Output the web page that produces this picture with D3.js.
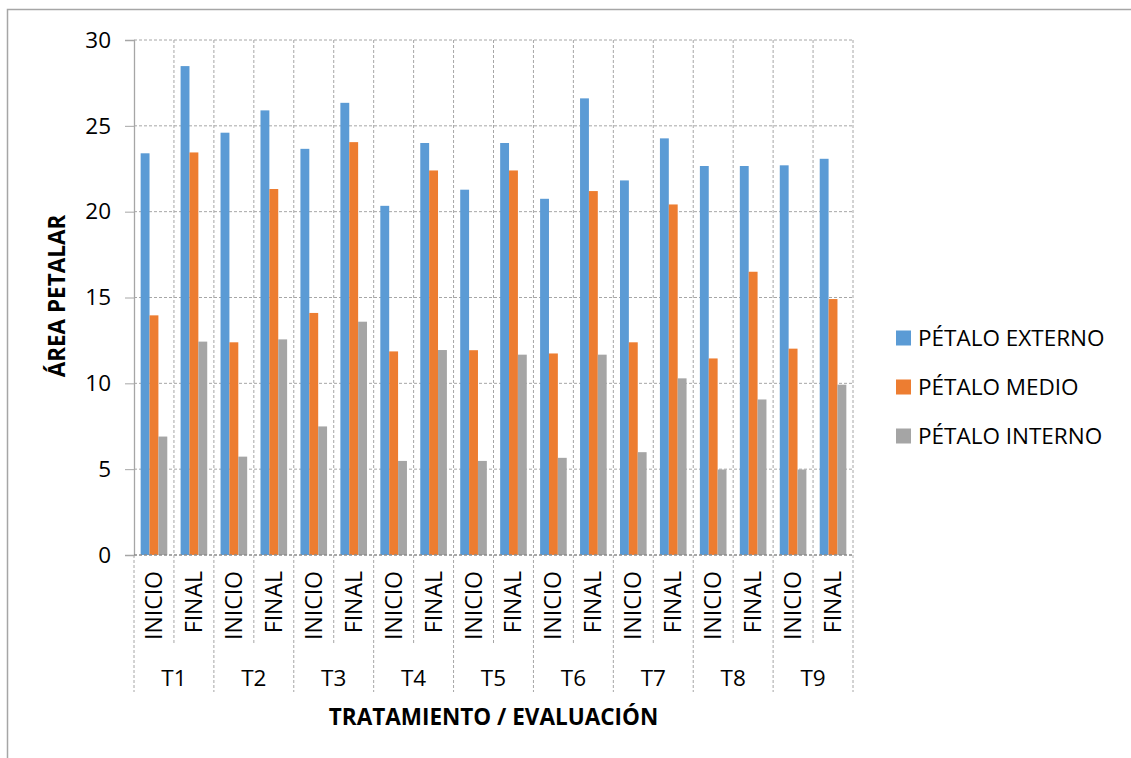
<!DOCTYPE html>
<html><head><meta charset="utf-8">
<script src="https://cdn.jsdelivr.net/npm/d3@7"></script>
<style>
body{margin:0;background:#fff;}
svg{display:block;font-family:"Open Sans",sans-serif;}
</style></head>
<body>
<svg id="chart" width="1131" height="758"></svg>
<script>
const treatments = ["T1","T2","T3","T4","T5","T6","T7","T8","T9"];
const evaluations = ["INICIO","FINAL"];
const seriesNames = ["PÉTALO EXTERNO","PÉTALO MEDIO","PÉTALO INTERNO"];
const seriesColors = ["#5B9BD5","#ED7D31","#A5A5A5"];
// values in order T1 INICIO, T1 FINAL, T2 INICIO, ...
const externo = [23.4,28.48,24.6,25.9,23.66,26.34,20.34,24.0,21.28,24.0,20.75,26.6,21.82,24.27,22.66,22.66,22.7,23.08];
const medio   = [13.96,23.45,12.39,21.32,14.1,24.05,11.86,22.4,11.93,22.4,11.74,21.2,12.39,20.42,11.45,16.5,12.02,14.91];
const interno = [6.9,12.43,5.73,12.56,7.49,13.59,5.48,11.94,5.48,11.67,5.66,11.67,5.99,10.29,4.98,9.06,4.98,9.92];
const yTicks = [0,5,10,15,20,25,30];
const yTitle = "ÁREA PETALAR";
const xTitle = "TRATAMIENTO / EVALUACIÓN";

const seriesValues = [externo, medio, interno];
const cats = [];
treatments.forEach(t => evaluations.forEach(e => cats.push({t, e, key: t + "|" + e})));
const rows = cats.map((c, i) => ({...c, vals: seriesValues.map(s => s[i])}));

const svg = d3.select("#chart");
const L = 134, R = 853, T = 40, B = 555;
const grid = "#A6A6A6";

// outer border
svg.append("rect").attr("x", 7.5).attr("y", 9.5).attr("width", 1140).attr("height", 800)
  .attr("fill", "none").attr("stroke", "#A6A6A6").attr("stroke-width", 1.5);

const x = d3.scaleBand().domain(cats.map(c => c.key)).range([L, R]).paddingInner(0).paddingOuter(0);
const x1 = d3.scaleBand().domain(d3.range(3)).range([0, x.bandwidth()]).paddingInner(0).paddingOuter(0.75);
const y = d3.scaleLinear().domain([0, 30]).range([B, T]);
const gx = d3.scaleBand().domain(treatments).range([L, R]);

// horizontal gridlines
svg.append("g").selectAll("line").data(yTicks.filter(v => v > 0)).join("line")
  .attr("x1", L).attr("x2", R).attr("y1", d => y(d)).attr("y2", d => y(d))
  .attr("stroke", grid).attr("stroke-width", 1).attr("stroke-dasharray", "3,2");
// vertical gridlines at category boundaries
const bounds = cats.map(c => x(c.key)).concat([R]);
svg.append("g").selectAll("line").data(bounds.slice(1)).join("line")
  .attr("x1", d => d).attr("x2", d => d).attr("y1", T).attr("y2", B)
  .attr("stroke", grid).attr("stroke-width", 1).attr("stroke-dasharray", "3,2");

// bars
const cg = svg.append("g").selectAll("g").data(rows).join("g")
  .attr("transform", d => `translate(${x(d.key)},0)`);
cg.selectAll("rect").data(d => d.vals.map((v, i) => ({v, i}))).join("rect")
  .attr("x", d => x1(d.i)).attr("width", x1.bandwidth())
  .attr("y", d => y(d.v)).attr("height", d => y(0) - y(d.v))
  .attr("fill", d => seriesColors[d.i]);

// y axis
const yAxis = d3.axisLeft(y).tickValues(yTicks).tickSize(9).tickPadding(14);
const ya = svg.append("g").attr("transform", `translate(${L},0)`).call(yAxis);
ya.select(".domain").attr("stroke", "#A6A6A6").attr("stroke-width", 1.3);
ya.selectAll(".tick line").attr("stroke", "#A6A6A6");
ya.selectAll("text").attr("font-size", 22.5).attr("fill", "#000").attr("font-family", "Open Sans");

// x axis baseline
svg.append("line").attr("x1", L).attr("x2", R).attr("y1", B).attr("y2", B)
  .attr("stroke", "#8C8C8C").attr("stroke-width", 1.3).attr("stroke-dasharray", "3,2");

// x separators: inner (between INICIO/FINAL) and group boundaries
const sep = svg.append("g");
cats.forEach((c, i) => {
  const xx = x(c.key);
  const isGroup = c.e === "INICIO";
  sep.append("line").attr("x1", xx).attr("x2", xx).attr("y1", B).attr("y2", isGroup ? 692 : 643)
    .attr("stroke", grid).attr("stroke-dasharray", "3,2");
});
sep.append("line").attr("x1", R).attr("x2", R).attr("y1", B).attr("y2", 692)
  .attr("stroke", grid).attr("stroke-dasharray", "3,2");

// category labels rotated
svg.append("g").selectAll("text").data(cats).join("text")
  .attr("transform", d => `translate(${x(d.key) + x.bandwidth() / 2 + 8},571) rotate(-90)`)
  .attr("text-anchor", "end").attr("font-size", 23).attr("fill", "#000")
  .text(d => d.e);

// treatment labels
svg.append("g").selectAll("text").data(treatments).join("text")
  .attr("x", d => gx(d) + gx.bandwidth() / 2).attr("y", 686)
  .attr("text-anchor", "middle").attr("font-size", 22.5).attr("fill", "#000")
  .text(d => d);

// axis titles
svg.append("text").attr("transform", `translate(65,296) rotate(-90)`)
  .attr("text-anchor", "middle").attr("font-size", 22.5).attr("font-weight", "bold").text(yTitle);
svg.append("text").attr("x", (L + R) / 2).attr("y", 725)
  .attr("text-anchor", "middle").attr("font-size", 22.5).attr("font-weight", "bold").text(xTitle);

// legend
const lg = svg.append("g").selectAll("g").data(seriesNames).join("g")
  .attr("transform", (d, i) => `translate(896,${338 + i * 49})`);
lg.append("rect").attr("x", 0).attr("y", -7.5).attr("width", 15).attr("height", 15)
  .attr("fill", (d, i) => seriesColors[i]);
lg.append("text").attr("x", 22).attr("y", 8).attr("font-size", 22.5).attr("fill", "#000").text(d => d);
</script>
</body></html>
